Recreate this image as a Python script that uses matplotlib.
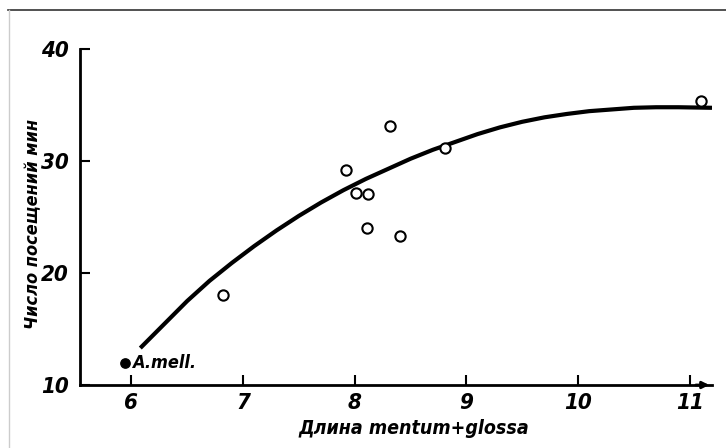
import matplotlib
matplotlib.use("Agg")
import matplotlib.pyplot as plt
from matplotlib.lines import Line2D

# data
open_x = [6.82, 7.92, 8.01, 8.12, 8.11, 8.41, 8.32, 8.81, 11.1]
open_y = [18.0, 29.2, 27.1, 27.05, 24.0, 23.3, 33.1, 31.2, 35.4]
mell_x = [5.94]
mell_y = [12.0]
mell_label = "A.mell."
curve_x = [6.08, 6.3, 6.5, 6.7, 6.9, 7.1, 7.3, 7.5, 7.7, 7.9, 8.1, 8.3, 8.5,
           8.7, 8.9, 9.1, 9.3, 9.5, 9.7, 9.9, 10.1, 10.3, 10.5, 10.7, 10.9, 11.2]
curve_y = [13.3, 15.5, 17.5, 19.3, 20.9, 22.4, 23.8, 25.1, 26.3, 27.4, 28.4, 29.3, 30.2,
           31.0, 31.7, 32.4, 33.0, 33.5, 33.9, 34.2, 34.45, 34.6, 34.75, 34.8, 34.8, 34.75]
xticks = [6, 7, 8, 9, 10, 11]
yticks = [10, 20, 30, 40]
xlabel = "Длина mentum+glossa"
ylabel = "Число посещений мин"

fam = ["DejaVu Sans", "Liberation Sans"]
fkw = dict(family=fam, style="italic", weight="bold", stretch="condensed")

fig = plt.figure(figsize=(7.26, 4.48), dpi=100)
W, H = 726, 448
ax = fig.add_axes([80 / W, (H - 385) / H, (712 - 80) / W, (385 - 49) / H])
ax.set_xlim(5.54, 11.2)
ax.set_ylim(10, 40)

ax.plot(curve_x, curve_y, color="black", lw=3.0, solid_capstyle="butt",
        solid_joinstyle="round", zorder=3)
ax.scatter(open_x, open_y, s=55, facecolors="white", edgecolors="black", linewidths=1.5, zorder=4)
ax.scatter(mell_x, mell_y, s=45, color="black", zorder=4)
ax.text(mell_x[0] + 0.07, mell_y[0], mell_label, fontsize=13, va="center", ha="left", **fkw)

for s in ["top", "right"]:
    ax.spines[s].set_visible(False)
for s in ["left", "bottom"]:
    ax.spines[s].set_linewidth(2.0)
ax.set_xticks(xticks)
ax.set_yticks(yticks)
ax.tick_params(axis="y", direction="in", length=7, width=1.5, pad=8)
ax.tick_params(axis="x", direction="in", length=7, width=1.5, pad=6)
for lab in ax.get_xticklabels() + ax.get_yticklabels():
    lab.set_fontfamily(fam)
    lab.set_fontstyle("italic")
    lab.set_fontweight("bold")
    lab.set_fontstretch("condensed")
    lab.set_fontsize(16)

# arrow at end of x axis
ax.annotate("", xy=(1.0, 0), xytext=(0.97, 0), xycoords="axes fraction",
            arrowprops=dict(arrowstyle="-|>", color="black", lw=2, mutation_scale=10),
            annotation_clip=False)

fig.text(414 / W, 1 - 428 / H, xlabel, ha="center", va="center", fontsize=14, **fkw)
fig.text(33 / W, 1 - 224 / H, ylabel, ha="center", va="center", rotation=90, fontsize=13, **fkw)

# scan frame lines
fig.add_artist(Line2D([8 / W, 1], [1 - 10 / H, 1 - 10 / H], color="#333333", lw=1.2))
fig.add_artist(Line2D([9 / W, 9 / W], [0, 1 - 10 / H], color="#cccccc", lw=1.0))

fig.savefig("out.png", dpi=100)
